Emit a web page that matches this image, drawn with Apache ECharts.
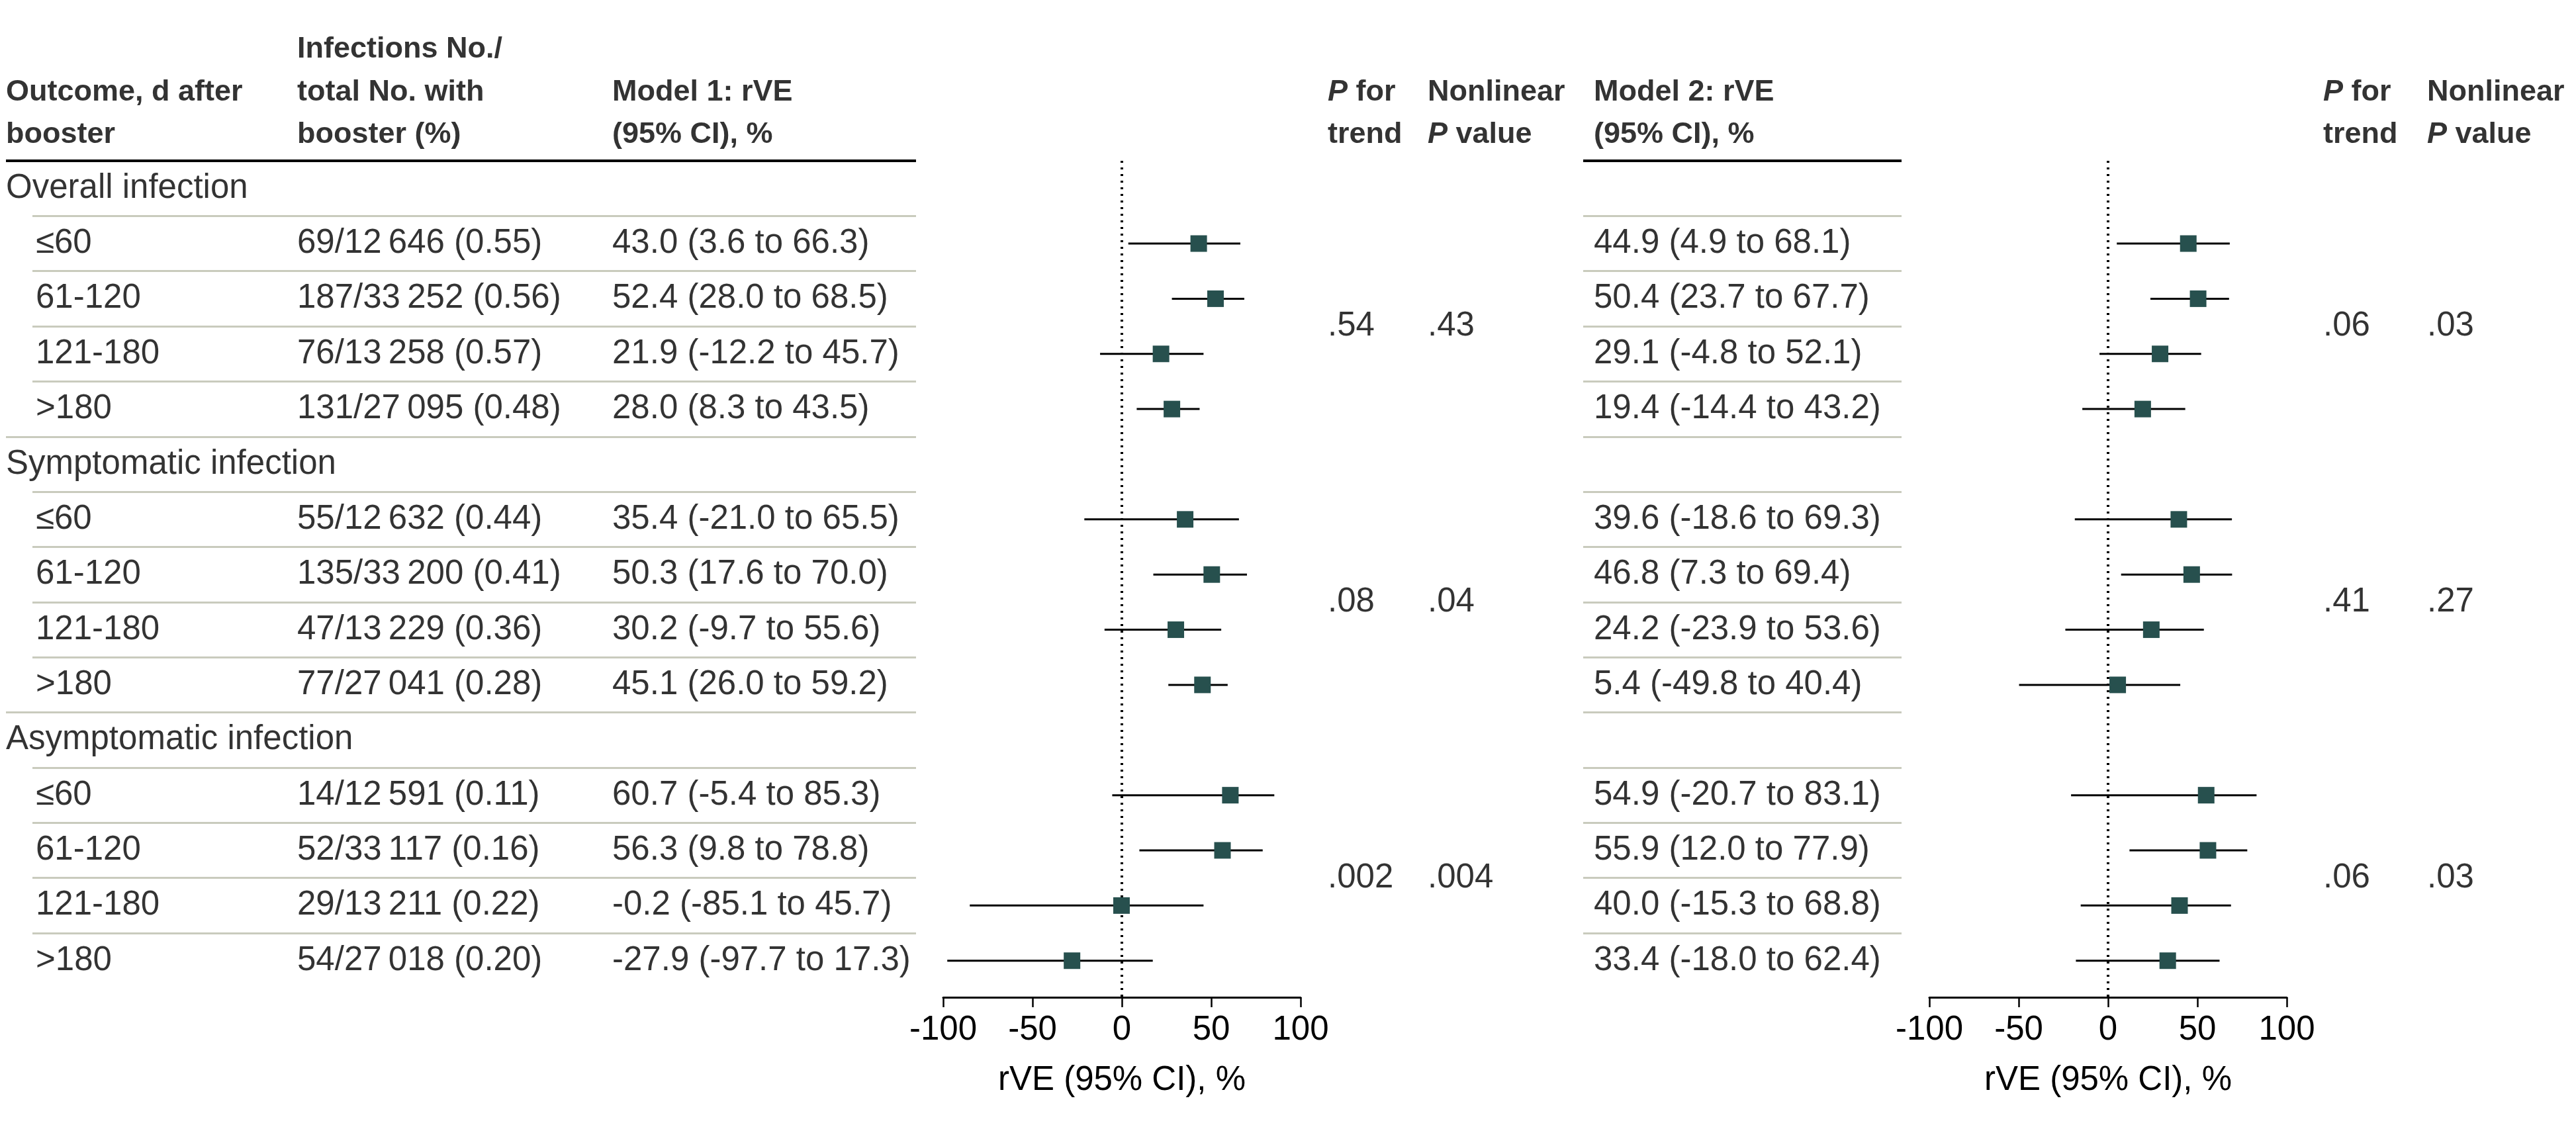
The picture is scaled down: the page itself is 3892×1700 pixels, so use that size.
<!DOCTYPE html>
<html><head><meta charset="utf-8">
<script src="https://cdn.jsdelivr.net/npm/echarts@6/dist/echarts.min.js"></script>
<style>html,body{margin:0;padding:0;background:#fff}#c{width:3892px;height:1700px}</style>
</head><body><div id="c"></div>
<script>
// ---------------- DATA ----------------
const outcomes = ['Overall infection', 'Symptomatic infection', 'Asymptomatic infection'];
const periods = ['≤60', '61-120', '121-180', '>180'];
const infectionCounts = [69, 187, 76, 131, 55, 135, 47, 77, 14, 52, 29, 54];
const boosterTotals = ['12\u2009646', '33\u2009252', '13\u2009258', '27\u2009095', '12\u2009632', '33\u2009200', '13\u2009229', '27\u2009041', '12\u2009591', '33\u2009117', '13\u2009211', '27\u2009018'];
const infectionPct = ['0.55', '0.56', '0.57', '0.48', '0.44', '0.41', '0.36', '0.28', '0.11', '0.16', '0.22', '0.20'];
const m1Est = [43.0, 52.4, 21.9, 28.0, 35.4, 50.3, 30.2, 45.1, 60.7, 56.3, -0.2, -27.9];
const m1Lo  = [3.6, 28.0, -12.2, 8.3, -21.0, 17.6, -9.7, 26.0, -5.4, 9.8, -85.1, -97.7];
const m1Hi  = [66.3, 68.5, 45.7, 43.5, 65.5, 70.0, 55.6, 59.2, 85.3, 78.8, 45.7, 17.3];
const m2Est = [44.9, 50.4, 29.1, 19.4, 39.6, 46.8, 24.2, 5.4, 54.9, 55.9, 40.0, 33.4];
const m2Lo  = [4.9, 23.7, -4.8, -14.4, -18.6, 7.3, -23.9, -49.8, -20.7, 12.0, -15.3, -18.0];
const m2Hi  = [68.1, 67.7, 52.1, 43.2, 69.3, 69.4, 53.6, 40.4, 83.1, 77.9, 68.8, 62.4];
const m1Trend = ['.54', '.08', '.002'];
const m1Nonlin = ['.43', '.04', '.004'];
const m2Trend = ['.06', '.41', '.06'];
const m2Nonlin = ['.03', '.27', '.03'];
const axisMin = -100, axisMax = 100, axisStep = 50;
const axisTitle = 'rVE (95% CI), %';

// ---------------- LAYOUT ----------------
const W = 3892;
const FONT = '"Liberation Sans", Arial, sans-serif';
const FS = 51, HFS = 45;
const TOP = 243, ROWH = 83.36, AXIS_Y = 1507;
const YMAX = (AXIS_Y - TOP) / ROWH;
const HEAD_TOP = 42.75, HEAD_LINE = 64.5;
const X = { outcome: 9, period: 54, inf: 449, m1: 925, p1: 2006, n1: 2157, m2: 2408, p2: 3510, n2: 3667 };
const T1 = [9, 1384], T1IND = 49, T2 = [2392, 2873];
const F1 = { left: 1425, width: 540 }, F2 = { left: 2915, width: 540 };
const MARK = '#27504e', GRAY = '#c9cbbd';

const fmt = v => v.toFixed(1);
const ci = (e, l, h) => fmt(e) + ' (' + fmt(l) + ' to ' + fmt(h) + ')';

// rows
const rowText = [];   // table grid text items
const m1Pts = [], m2Pts = [], m1Ci = [], m2Ci = [];
outcomes.forEach((o, g) => {
  const r0 = g * 5;
  rowText.push({ value: [X.outcome, r0 + 0.5], name: o });
  periods.forEach((p, j) => {
    const k = g * 4 + j, y = r0 + 1 + j + 0.5;
    rowText.push({ value: [X.period, y], name: p });
    rowText.push({ value: [X.inf, y], name: infectionCounts[k] + '/' + boosterTotals[k] + ' (' + infectionPct[k] + ')' });
    rowText.push({ value: [X.m1, y], name: ci(m1Est[k], m1Lo[k], m1Hi[k]) });
    rowText.push({ value: [X.m2, y], name: ci(m2Est[k], m2Lo[k], m2Hi[k]) });
    m1Pts.push([m1Est[k], y]); m1Ci.push([m1Lo[k], m1Hi[k], y]);
    m2Pts.push([m2Est[k], y]); m2Ci.push([m2Lo[k], m2Hi[k], y]);
  });
  const py = r0 + 3.0;
  rowText.push({ value: [X.p1, py], name: m1Trend[g] });
  rowText.push({ value: [X.n1, py], name: m1Nonlin[g] });
  rowText.push({ value: [X.p2, py], name: m2Trend[g] });
  rowText.push({ value: [X.n2, py], name: m2Nonlin[g] });
});

// header lines (category index 0..2)
const headText = [
  { value: [X.inf, 0], name: 'Infections No./' },
  { value: [X.outcome, 1], name: 'Outcome, d after' },
  { value: [X.inf, 1], name: 'total No. with' },
  { value: [X.m1, 1], name: 'Model 1: rVE' },
  { value: [X.p1, 1], name: '{i|P} for' },
  { value: [X.n1, 1], name: 'Nonlinear' },
  { value: [X.m2, 1], name: 'Model 2: rVE' },
  { value: [X.p2, 1], name: '{i|P} for' },
  { value: [X.n2, 1], name: 'Nonlinear' },
  { value: [X.outcome, 2], name: 'booster' },
  { value: [X.inf, 2], name: 'booster (%)' },
  { value: [X.m1, 2], name: '(95% CI), %' },
  { value: [X.p1, 2], name: 'trend' },
  { value: [X.n1, 2], name: '{i|P} value' },
  { value: [X.m2, 2], name: '(95% CI), %' },
  { value: [X.p2, 2], name: 'trend' },
  { value: [X.n2, 2], name: '{i|P} value' }
];

// separator lines
const seps = [];
const line = (x1, x2, y, w, c) => [{ coord: [x1, y], lineStyle: { width: w, color: c, type: 'solid' } }, { coord: [x2, y] }];
seps.push(line(T1[0], T1[1], 0, 4, '#000'));
seps.push(line(T2[0], T2[1], 0, 4, '#000'));
for (let k = 1; k < outcomes.length * 5; k++) {
  seps.push(line(k % 5 === 0 ? T1[0] : T1IND, T1[1], k, 3, GRAY));
  seps.push(line(T2[0], T2[1], k, 3, GRAY));
}

const labelBase = { show: true, position: 'right', distance: 0, color: '#000', fontFamily: FONT, fontSize: FS };

function forestAxis(gi) {
  return {
    gridIndex: gi, type: 'value', position: 'bottom', min: axisMin, max: axisMax, interval: axisStep,
    axisLine: { show: true, onZero: false, lineStyle: { color: '#000', width: 3 } },
    axisTick: { show: true, length: 15, inside: false, lineStyle: { color: '#000', width: 2.5 } },
    axisLabel: { color: '#000', fontFamily: FONT, fontSize: FS, margin: 24 },
    splitLine: { show: false },
    name: axisTitle, nameLocation: 'middle', nameGap: 100,
    nameTextStyle: { color: '#000', fontFamily: FONT, fontSize: FS }
  };
}
function hiddenY(gi) {
  return { gridIndex: gi, type: 'value', inverse: true, min: 0, max: YMAX, show: false };
}
function forestSeries(ai, pts, cis) {
  return [
    {
      type: 'custom', xAxisIndex: ai, yAxisIndex: ai, data: cis, encode: { x: [0, 1], y: 2 }, z: 3,
      renderItem: (params, api) => {
        const a = api.coord([api.value(0), api.value(2)]);
        const b = api.coord([api.value(1), api.value(2)]);
        return { type: 'line', shape: { x1: a[0], y1: a[1], x2: b[0], y2: b[1] }, style: { stroke: '#000', lineWidth: 3 } };
      }
    },
    {
      type: 'scatter', xAxisIndex: ai, yAxisIndex: ai, data: pts, symbol: 'rect', symbolSize: 25, z: 4,
      itemStyle: { color: MARK, opacity: 1 }, silent: true,
      markLine: {
        silent: true, symbol: ['none', 'none'], label: { show: false },
        lineStyle: { color: '#000', width: 4, type: [3, 7] },
        data: [{ xAxis: 0 }], z: 2
      }
    }
  ];
}

const option = {
  backgroundColor: '#fff',
  animation: false,
  grid: [
    { left: 0, top: TOP, width: W, height: AXIS_Y - TOP },
    { left: 0, top: HEAD_TOP, width: W, height: HEAD_LINE * 3 },
    { left: F1.left, top: TOP, width: F1.width, height: AXIS_Y - TOP },
    { left: F2.left, top: TOP, width: F2.width, height: AXIS_Y - TOP }
  ],
  xAxis: [
    { gridIndex: 0, type: 'value', min: 0, max: W, show: false },
    { gridIndex: 1, type: 'value', min: 0, max: W, show: false },
    forestAxis(2), forestAxis(3)
  ],
  yAxis: [
    hiddenY(0),
    { gridIndex: 1, type: 'category', inverse: true, data: ['l1', 'l2', 'l3'], show: false },
    hiddenY(2), hiddenY(3)
  ],
  series: [
    {
      type: 'scatter', xAxisIndex: 0, yAxisIndex: 0, data: rowText, symbolSize: 0, clip: false, silent: true,
      label: Object.assign({}, labelBase, { formatter: '{b}' }),
      markLine: { silent: true, symbol: ['none', 'none'], label: { show: false }, data: seps }
    },
    {
      type: 'scatter', xAxisIndex: 1, yAxisIndex: 1, data: headText, symbolSize: 0, clip: false, silent: true,
      label: Object.assign({}, labelBase, {
        formatter: '{b}', fontWeight: 'bold', fontSize: HFS,
        rich: { i: { fontStyle: 'italic', fontWeight: 'bold', fontSize: HFS, fontFamily: FONT, color: '#000' } }
      })
    },
    ...forestSeries(2, m1Pts, m1Ci),
    ...forestSeries(3, m2Pts, m2Ci)
  ]
};
const chart = echarts.init(document.getElementById('c'), null, { renderer: 'canvas' });
chart.setOption(option);
</script></body></html>
